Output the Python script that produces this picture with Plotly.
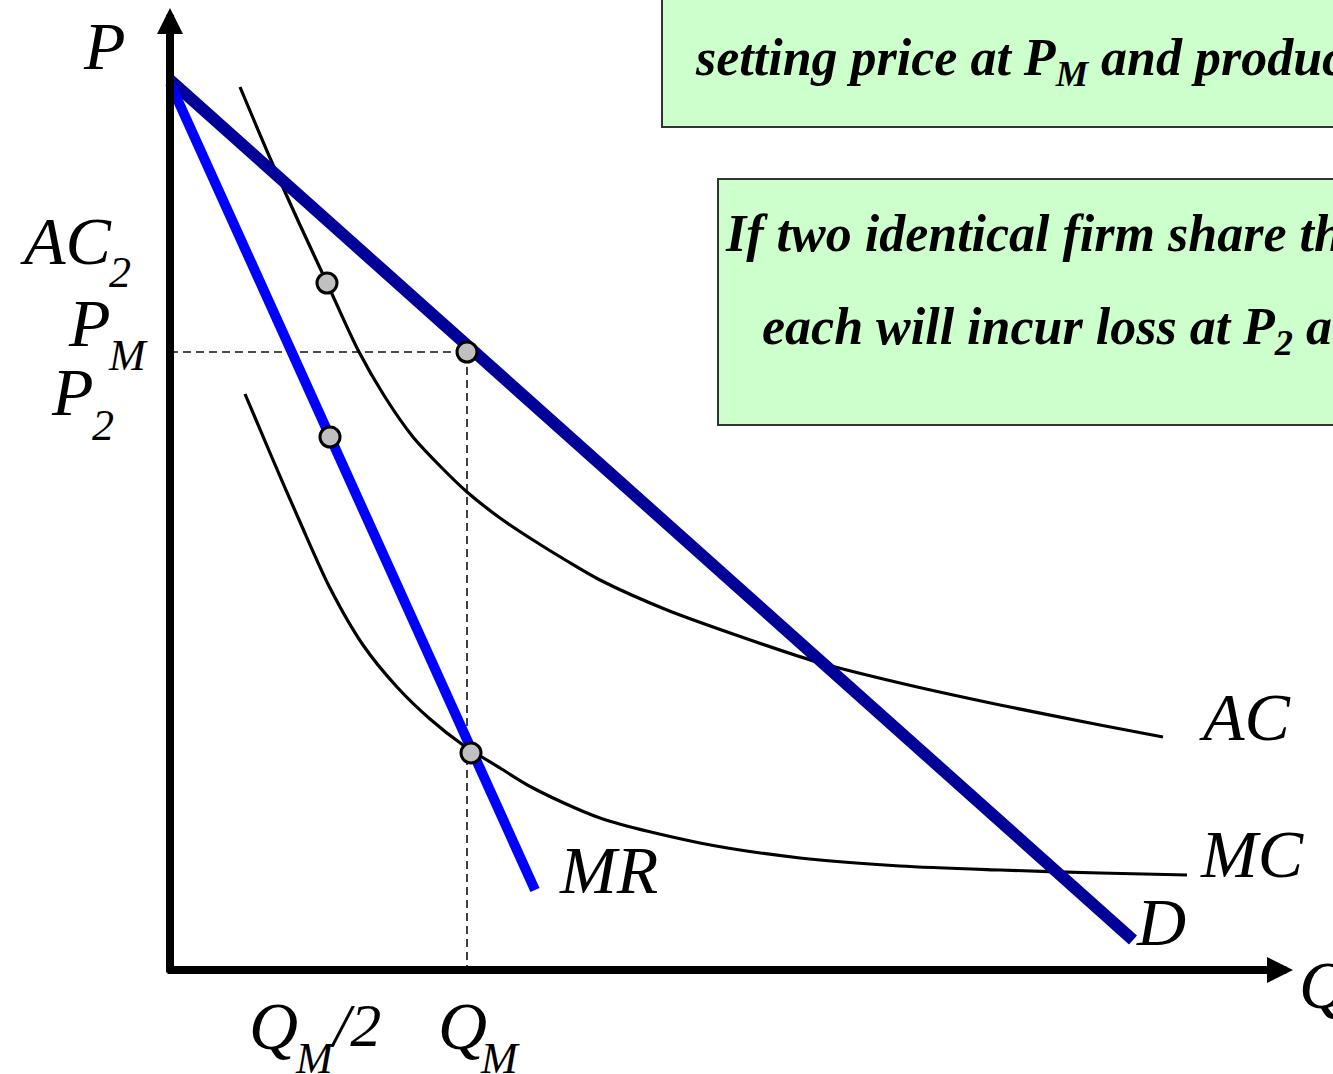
import plotly.graph_objects as go

# ---------------- data (Q = quantity, P = price; diagram units) ----------------
demand_q = [0, 963]
demand_p = [890, 30]

mr_q = [0, 365]
mr_p = [887, 80]

ac_q = [70, 100, 130, 157, 188, 215, 243, 270, 297, 330, 363, 397, 430, 497, 563, 647, 730, 830, 930, 993]
ac_p = [883, 812, 745, 687, 620, 573, 533, 504, 478, 452, 430, 409, 390, 360, 336, 308, 287, 265, 245, 233]

mc_q = [75, 103, 130, 160, 193, 227, 260, 293, 330, 363, 430, 530, 630, 730, 830, 930, 1017]
mc_p = [576, 510, 448, 382, 325, 283, 251, 225, 202, 182, 152, 127, 112, 104, 100, 97, 95]

q_m = 297          # monopoly output
p_m = 618          # monopoly price

point_q = [157, 297, 160, 301]
point_p = [687, 618, 533, 217]

box_texts = [
    "setting price at P<sub>M</sub> and producing Q<sub>M</sub>",
    "If two identical firm share the market,",
    "each will incur loss at P<sub>2</sub> and Q<sub>M</sub>/2",
]

SERIF = "Liberation Serif, Times New Roman, serif"

fig = go.Figure()

# green text boxes
fig.add_shape(type="rect", xref="x", yref="y", x0=492, x1=1300, y0=843, y1=1100,
              fillcolor="#CCFFCC", line=dict(color="#333333", width=2), layer="below")
fig.add_shape(type="rect", xref="x", yref="y", x0=548, x1=1300, y0=545, y1=791,
              fillcolor="#CCFFCC", line=dict(color="#333333", width=2), layer="below")

# dashed guide lines
fig.add_trace(go.Scatter(x=[0, q_m, q_m], y=[p_m, p_m, 0], mode="lines",
                         line=dict(color="#111111", width=1.6, dash="8px,5px"),
                         hoverinfo="skip", showlegend=False))

# AC and MC
fig.add_trace(go.Scatter(x=ac_q, y=ac_p, mode="lines",
                         line=dict(color="black", width=3.2, shape="spline", smoothing=0.8),
                         hoverinfo="skip", showlegend=False))
fig.add_trace(go.Scatter(x=mc_q, y=mc_p, mode="lines",
                         line=dict(color="black", width=3.2, shape="spline", smoothing=0.8),
                         hoverinfo="skip", showlegend=False))

# Demand and MR
fig.add_trace(go.Scatter(x=demand_q, y=demand_p, mode="lines", line=dict(color="#000099", width=12),
                         hoverinfo="skip", showlegend=False))
fig.add_trace(go.Scatter(x=mr_q, y=mr_p, mode="lines", line=dict(color="#0000FF", width=10),
                         hoverinfo="skip", showlegend=False))

# points
fig.add_trace(go.Scatter(x=point_q, y=point_p, mode="markers",
                         marker=dict(size=20, color="#C0C0C0", line=dict(color="black", width=3)),
                         hoverinfo="skip", showlegend=False))

# axes with arrows
fig.add_annotation(x=0, y=962, ax=0, ay=-4, xref="x", yref="y", axref="x", ayref="y",
                   showarrow=True, arrowhead=2, arrowsize=0.65, arrowwidth=8, arrowcolor="black", text="")
fig.add_annotation(x=1123, y=0, ax=-4, ay=0, xref="x", yref="y", axref="x", ayref="y",
                   showarrow=True, arrowhead=2, arrowsize=0.65, arrowwidth=8, arrowcolor="black", text="")


def label(txt, x, y, size=68, anchor="center"):
    fig.add_annotation(x=x, y=y, xref="x", yref="y", text=txt, showarrow=False,
                       xanchor=anchor, yanchor="middle",
                       font=dict(family=SERIF, size=size, color="black", style="italic"))


# axis labels
label("P", -66, 924)
label("AC", -152, 729, anchor="left")
label("2", -50, 698, size=44)
label("P", -81, 647)
label("M", -42, 615, size=44)
label("P", -98, 578)
label("2", -67, 545, size=44)
label("Q", 103, -56)
label("M", 145, -88, size=44)
label("/2", 185, -55, size=62)
label("Q", 292, -56)
label("M", 330, -88, size=44)
label("Q", 1127, -15, anchor="left")

# curve labels
label("AC", 1075, 253)
label("MC", 1082, 116)
label("MR", 438, 100)
label("D", 991, 48)

# box texts
for txt, x, y in zip(box_texts, [523, 553, 590], [909, 737, 640]):
    fig.add_annotation(x=x, y=y, xref="x", yref="y", text=txt, showarrow=False,
                       xanchor="left", yanchor="middle",
                       font=dict(family=SERIF, size=52, color="black", style="italic", weight="bold"))

fig.update_layout(
    width=1333, height=1074,
    margin=dict(l=0, r=0, t=0, b=0),
    paper_bgcolor="white", plot_bgcolor="white",
    xaxis=dict(range=[-170, 1163], visible=False, fixedrange=True),
    yaxis=dict(range=[-104, 970], visible=False, fixedrange=True),
    showlegend=False,
)

fig.write_html("out.html", post_script="document.body.style.margin='0';document.body.style.overflow='hidden';",
               config={"displayModeBar": False})
